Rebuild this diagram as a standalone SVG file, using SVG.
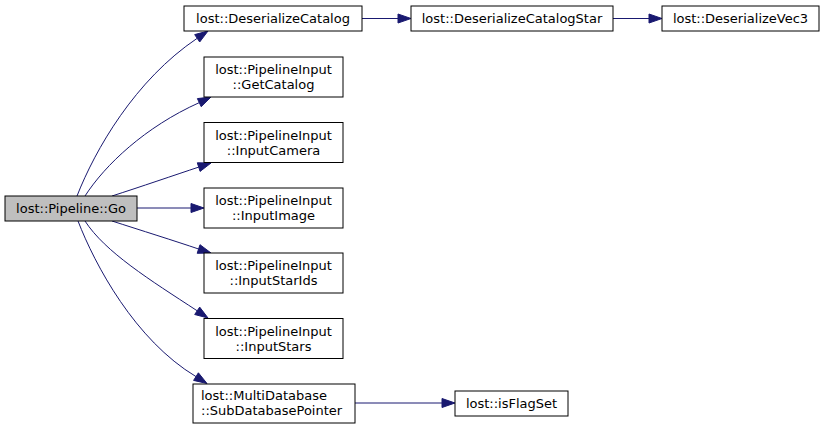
<svg xmlns="http://www.w3.org/2000/svg" width="825" height="430" viewBox="0 0 825 430">
<style>
.node rect{fill:#ffffff;stroke:#000000;stroke-width:1}
.node.cur rect{fill:#bfbfbf}
text{font-family:"DejaVu Sans",sans-serif;font-size:13px;fill:#000000}
.c{text-anchor:middle}
.edge path{fill:none;stroke:#191970;stroke-width:1}
.edge polygon{fill:#191970;stroke:#191970;stroke-width:1}
</style>
<rect x="0" y="0" width="825" height="430" fill="#ffffff"/>
<g id="connectors">
<g class="edge"><path d="M77,196 C95,150 135,80 197.2,38.3"/><polygon points="208,31 199.7,42 194.7,34.6"/></g>
<g class="edge"><path d="M85,196 C105,165 145,127 199.3,102.6"/><polygon points="211,97 201.2,106.7 197.4,98.6"/></g>
<g class="edge"><path d="M112,196 C140,187 175,175 198.7,167.1"/><polygon points="211,163 200.1,171.4 197.3,162.8"/></g>
<g class="edge"><path d="M137,208 L191,208"/><polygon points="204,208 191,212.5 191,203.5"/></g>
<g class="edge"><path d="M112,221 C140,230 175,241 198.6,249"/><polygon points="211,253 197.2,253.3 200,244.7"/></g>
<g class="edge"><path d="M85,221 C105,252 150,280 197.2,310.8"/><polygon points="208,318 194.7,314.5 199.7,307.1"/></g>
<g class="edge"><path d="M78,221 C95,265 135,340 196,376.6"/><polygon points="207,383.5 193.6,380.4 198.4,372.8"/></g>
<g class="edge"><path d="M362,18.5 L398,18.5"/><polygon points="411,18.5 398,23 398,14"/></g>
<g class="edge"><path d="M613,18.5 L649,18.5"/><polygon points="662,18.5 649,23 649,14"/></g>
<g class="edge"><path d="M355,403 L442,403"/><polygon points="455,403 442,407.5 442,398.5"/></g>
</g>
<g id="node-go" class="node cur"><rect x="5" y="196" width="132" height="25"/><text class="c" x="71" y="212.5">lost::Pipeline::Go</text></g>
<g id="node-deserializecatalog" class="node"><rect x="184" y="6" width="178" height="25"/><text class="c" x="273" y="23">lost::DeserializeCatalog</text></g>
<g id="node-deserializecatalogstar" class="node"><rect x="411" y="6" width="202" height="25"/><text class="c" x="512" y="23">lost::DeserializeCatalogStar</text></g>
<g id="node-deserializevec3" class="node"><rect x="662" y="6" width="157" height="25"/><text class="c" x="740.5" y="23">lost::DeserializeVec3</text></g>
<g id="node-getcatalog" class="node"><rect x="204" y="57" width="139" height="40"/><text class="c" x="273.5" y="74">lost::PipelineInput</text><text class="c" x="273.5" y="89">::GetCatalog</text></g>
<g id="node-inputcamera" class="node"><rect x="204" y="122.5" width="139" height="40"/><text class="c" x="273.5" y="139.5">lost::PipelineInput</text><text class="c" x="273.5" y="154.5">::InputCamera</text></g>
<g id="node-inputimage" class="node"><rect x="204" y="188" width="139" height="40"/><text class="c" x="273.5" y="205">lost::PipelineInput</text><text class="c" x="273.5" y="220">::InputImage</text></g>
<g id="node-inputstarids" class="node"><rect x="204" y="253" width="139" height="40"/><text class="c" x="273.5" y="270">lost::PipelineInput</text><text class="c" x="273.5" y="285">::InputStarIds</text></g>
<g id="node-inputstars" class="node"><rect x="204" y="318.5" width="139" height="40"/><text class="c" x="273.5" y="335.5">lost::PipelineInput</text><text class="c" x="273.5" y="350.5">::InputStars</text></g>
<g id="node-subdatabasepointer" class="node"><rect x="193" y="384" width="162" height="39"/><text x="201" y="400">lost::MultiDatabase</text><text x="201" y="415">::SubDatabasePointer</text></g>
<g id="node-isflagset" class="node"><rect x="455" y="391" width="113" height="25"/><text class="c" x="511.5" y="408">lost::isFlagSet</text></g>
</svg>
